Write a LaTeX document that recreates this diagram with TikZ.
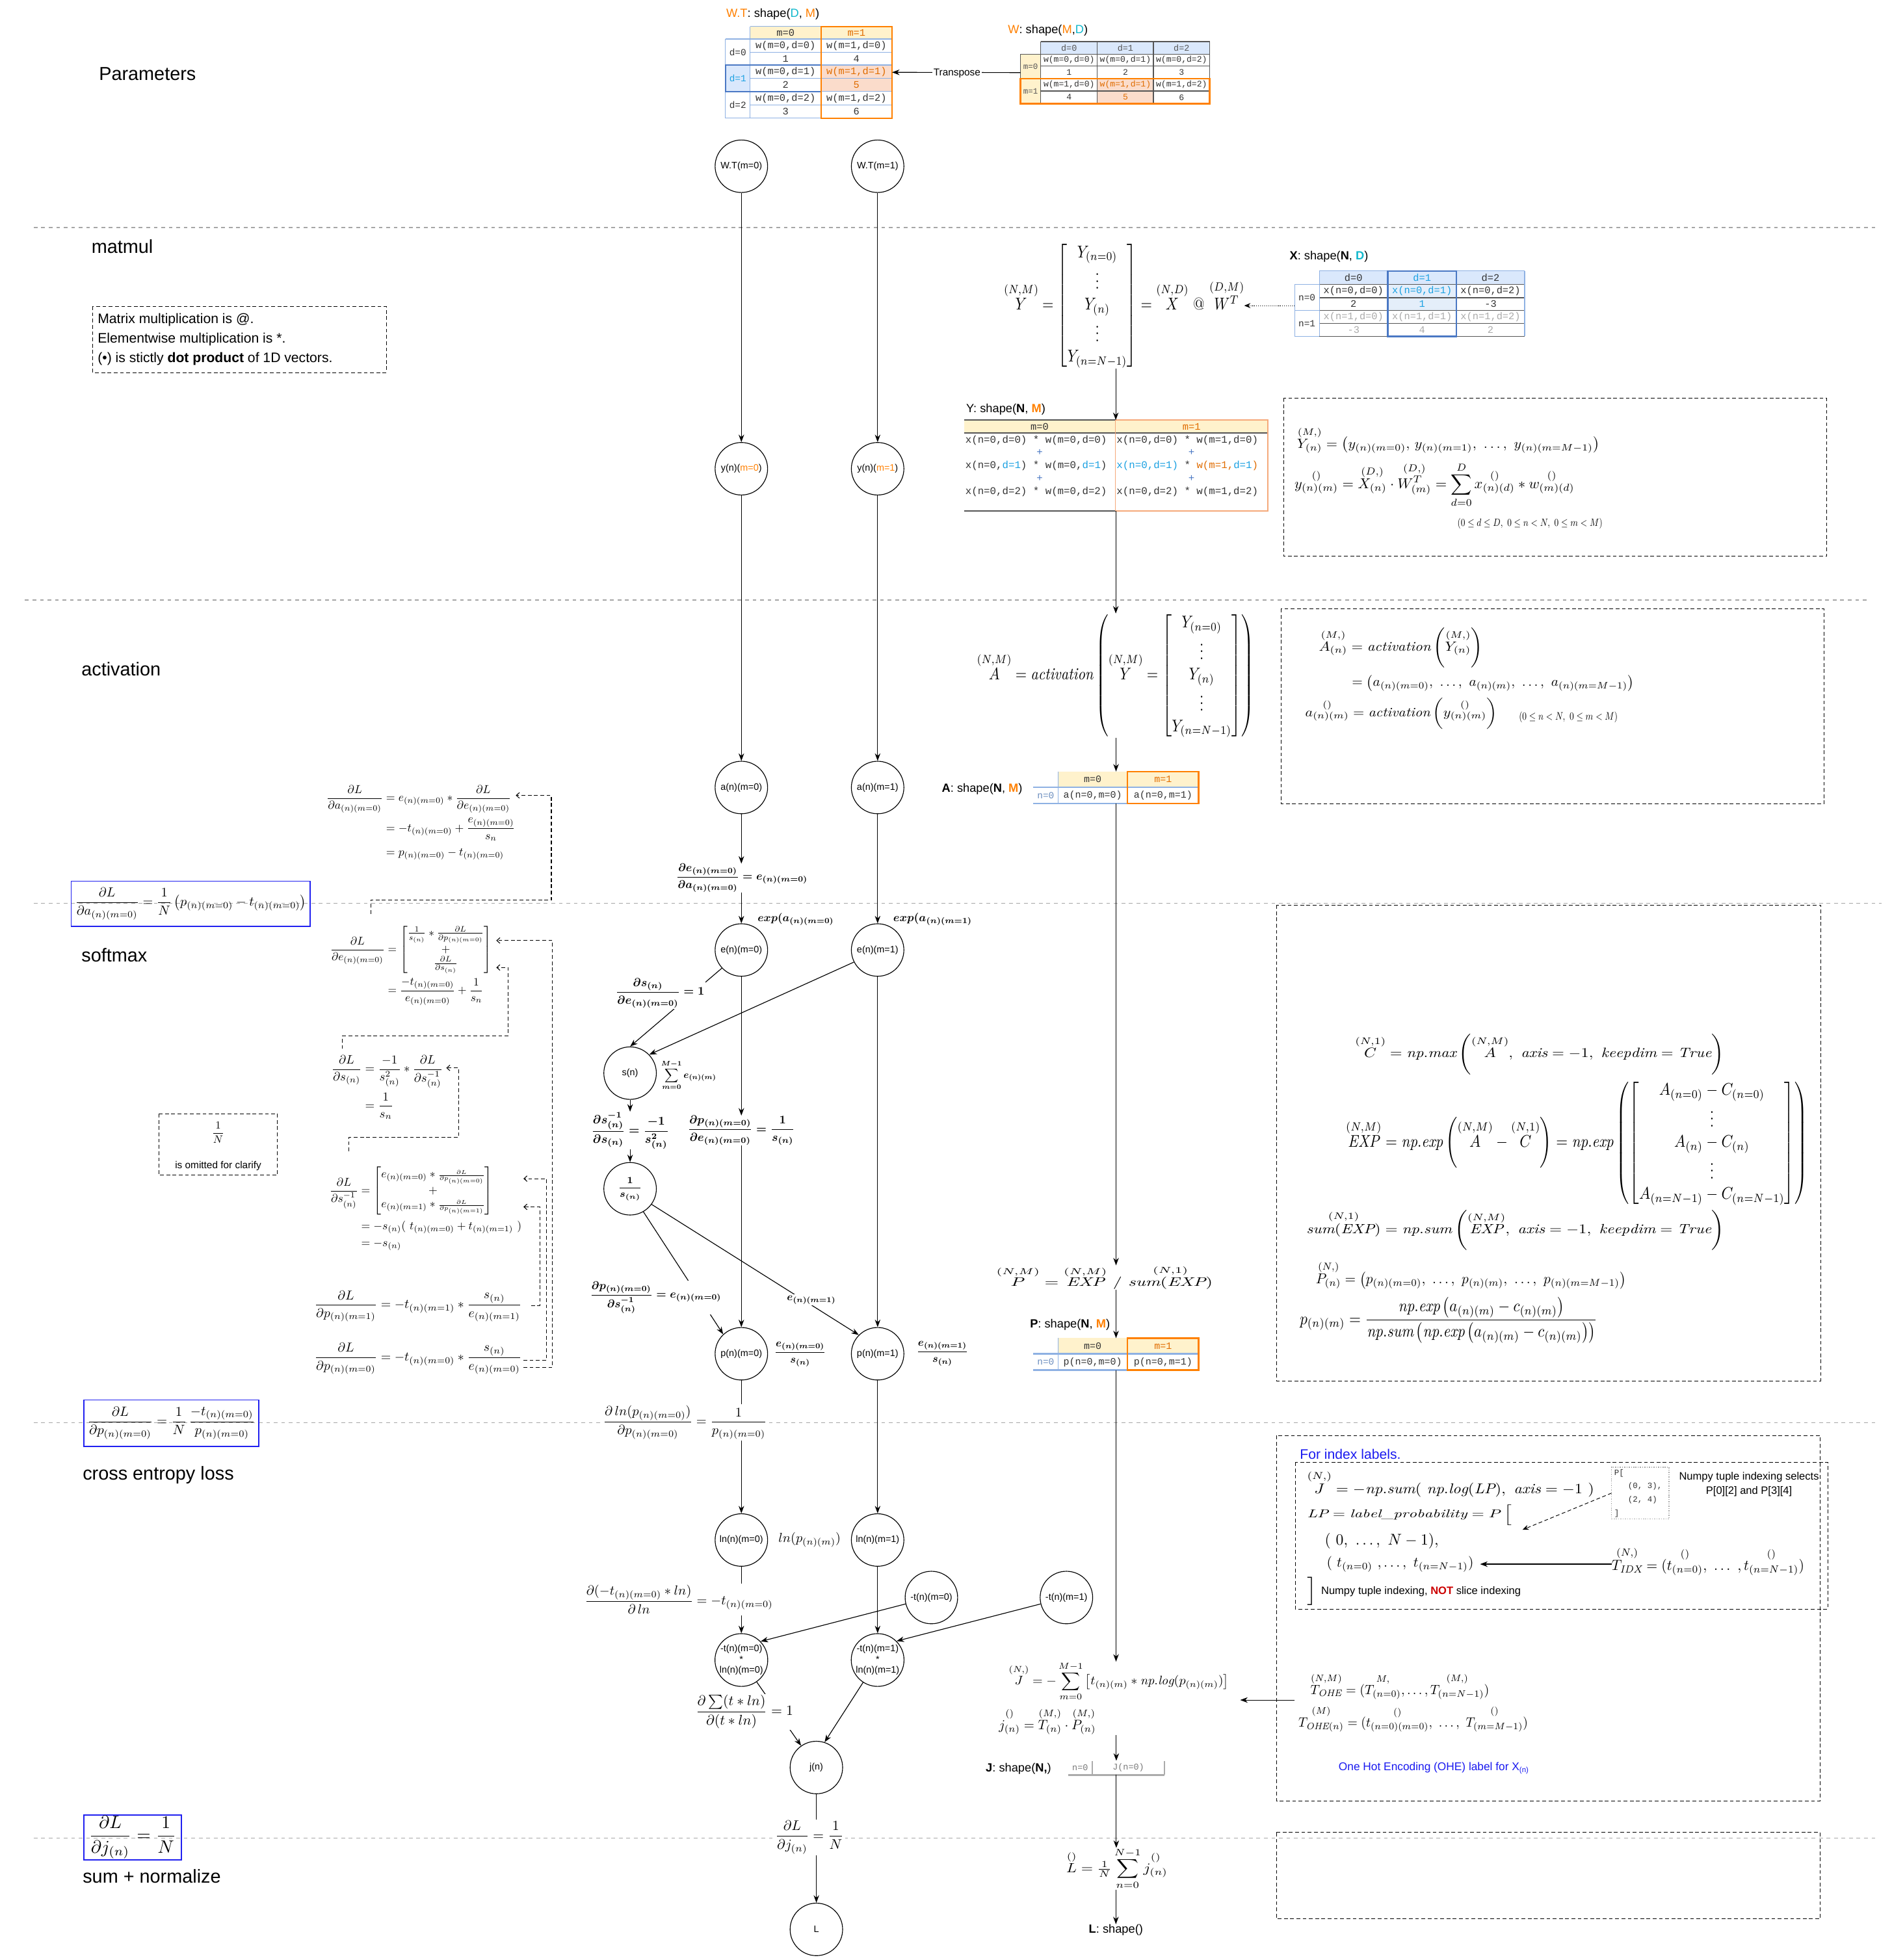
\RequirePackage{fix-cm}
\documentclass[tikz,border=0pt]{standalone}
\usepackage{amsmath,amssymb}
\usepackage{graphicx}
\usepackage{fontspec}
\setsansfont{Liberation Sans}
\setmonofont{Liberation Mono}
\usetikzlibrary{arrows.meta}

\definecolor{orT}{HTML}{FF8000}
\definecolor{orD}{HTML}{E06C00}
\definecolor{orL}{HTML}{F5A97A}
\definecolor{cyT}{HTML}{12B8CC}
\definecolor{cyD}{HTML}{1BA1E2}
\definecolor{yelF}{HTML}{FFF2CC}
\definecolor{bluF}{HTML}{DAE8FC}
\definecolor{bluL}{HTML}{E4EEFA}
\definecolor{salF}{HTML}{FBDCCB}
\definecolor{bluB}{HTML}{8EB1E3}
\definecolor{bluK}{HTML}{4A78C4}
\definecolor{grT}{HTML}{ABABAB}
\definecolor{dkG}{HTML}{555555}
\definecolor{txG}{HTML}{333333}
\definecolor{sepC}{HTML}{A6A6A6}
\definecolor{boxB}{HTML}{2020F0}
\definecolor{hdB}{HTML}{6C8EBF}
\definecolor{notR}{HTML}{CC0000}
\definecolor{linkB}{HTML}{1A1AF0}

% width-fitted and box-fitted formulas
\newcommand\fwid[2]{\resizebox{#1pt}{!}{#2}}
\newcommand\fwh[3]{\resizebox*{#1pt}{#2pt}{#3}}
% array shape written above a symbol (indices go inside the second argument)
\newcommand\shp[2]{{\overset{#1}{#2}}}
\newcommand\tsz[1]{\fontsize{#1}{#1}\selectfont}

\begin{document}
\begin{tikzpicture}[x=1pt,y=-1pt,
  op/.style={circle,draw,line width=0.6pt,minimum size=42pt,inner sep=0pt,fill=white,font=\sffamily\tsz{7.5}},
  arr/.style={-{Stealth[length=6pt,width=4.4pt]},line width=0.6pt},
  bp/.style={densely dashed,line width=0.55pt,-{Straight Barb[length=2.5pt,width=4.5pt]}},
  sepl/.style={sepC,dashed,line width=0.6pt},
  lbl/.style={inner sep=1pt,fill=white},
  eqn/.style={inner sep=0pt},
  sec/.style={anchor=west,inner sep=0pt,font=\sffamily\tsz{15}},
  dbox/.style={draw,densely dashed,line width=0.5pt},
  bbox/.style={draw=boxB,line width=0.8pt},
  tc/.style={inner sep=0pt,text=txG,font=\ttfamily\tsz{#1}},
  tc/.default=8,
  shl/.style={inner sep=0pt,font=\sffamily\tsz{9.5}},
  holder/.style={inner sep=0pt,outer sep=0pt}
]
\fill[white] (0,0) rectangle (1513,1568);
\useasboundingbox (0,0) rectangle (1513,1568);

% ---------------- stage separators ----------------
\draw[sepl] (27,182) -- (1500,182);
\draw[sepl] (20,480) -- (1495,480);
\draw[sepl] (27,722.5) -- (1505,722.5);
\draw[sepl] (27,1138) -- (1500,1138);
\draw[sepl] (27,1470.5) -- (1500,1470.5);

% ---------------- stage titles ----------------
\node[sec] (tParam) at (79,59) {Parameters};
\node[sec] (tMat) at (73,197) {matmul};
\node[sec] (tAct) at (65,535) {activation};
\node[sec] (tSoft) at (65,764) {softmax};
\node[sec] (tCE) at (66,1180) {cross entropy loss};
\node[sec] (tSum) at (66,1501) {sum + normalize};

% ---------------- notes ----------------
\draw[dbox] (74,245) rectangle (309,298);
\node[anchor=west,align=left,inner sep=0pt,font=\sffamily\fontsize{11}{15.5}\selectfont] (tNote) at (78,271.5)
  {Matrix multiplication is @.\\Elementwise multiplication is *.\\(•) is stictly \textbf{dot product} of 1D vectors.};
\draw[dbox] (127,891) rectangle (222,940);
\node[eqn] (omN) at (174.5,906) {\fwid{10}{$\dfrac{1}{N}$}};
\node[inner sep=0pt,font=\sffamily\tsz{8}] (omT) at (174.5,932.5) {is omitted for clarify};

% ---------------- W.T table ----------------
\node[shl] (wtTl) at (618.2,11.3) {\textcolor{orT}{W.T}: shape(\textcolor{cyT}{D}, \textcolor{orT}{M})};
\node[holder,minimum width=133.2pt,minimum height=73.3pt] (wtT) at (646.9,57.85) {};
\fill[yelF] (600,21.2) rectangle (713.5,31.2);
\fill[bluF] (580.3,52) rectangle (600,73.2);
\fill[salF] (656.7,52) rectangle (713.5,73.2);
\draw[bluB,line width=0.6pt]
  (600,21.2) -- (713.5,21.2) (580.3,31.2) -- (713.5,31.2) (600,41.9) -- (713.5,41.9)
  (580.3,52) -- (713.5,52) (600,62.6) -- (713.5,62.6) (580.3,73.2) -- (713.5,73.2)
  (600,83.9) -- (713.5,83.9) (580.3,94.5) -- (713.5,94.5)
  (580.3,31.2) -- (580.3,94.5) (600,21.2) -- (600,94.5) (656.7,21.2) -- (656.7,94.5);
\draw[bluK,line width=1.2pt] (580.3,52) rectangle (656.7,73.2);
\draw[orT,line width=1.2pt] (656.7,21.2) rectangle (713.5,94.5);
\node[tc=8] (wt-h0) at (628.35,26.2) {m=0};
\node[tc=8,text=orD] (wt-h1) at (685.1,26.2) {m=1};
\node[tc=7.5] (wt-d0) at (590.15,41.6) {d=0};
\node[tc=7.5,text=cyD] (wt-d1) at (590.15,62.6) {d=1};
\node[tc=7.5] (wt-d2) at (590.15,83.85) {d=2};
\node[tc=8] (wt-a1) at (628.35,36.55) {w(m=0,d=0)};
\node[tc=8] (wt-a2) at (628.35,46.95) {1};
\node[tc=8] (wt-a3) at (628.35,57.3) {w(m=0,d=1)};
\node[tc=8] (wt-a4) at (628.35,67.9) {2};
\node[tc=8] (wt-a5) at (628.35,78.55) {w(m=0,d=2)};
\node[tc=8] (wt-a6) at (628.35,89.2) {3};
\node[tc=8] (wt-b1) at (685.1,36.55) {w(m=1,d=0)};
\node[tc=8] (wt-b2) at (685.1,46.95) {4};
\node[tc=8,text=orD] (wt-b3) at (685.1,57.3) {w(m=1,d=1)};
\node[tc=8,text=orD] (wt-b4) at (685.1,67.9) {5};
\node[tc=8] (wt-b5) at (685.1,78.55) {w(m=1,d=2)};
\node[tc=8] (wt-b6) at (685.1,89.2) {6};

% ---------------- W table ----------------
\node[shl] (wtabl) at (838.2,24.3) {\textcolor{orT}{W}: shape(\textcolor{orT}{M},\textcolor{cyT}{D})};
\node[holder,minimum width=151.3pt,minimum height=49.6pt] (wtab) at (891.95,58.1) {};
\fill[bluF] (832.4,33.3) rectangle (967.6,43.3);
\fill[yelF] (816.3,43.3) rectangle (832.4,82.9);
\fill[salF] (877.8,62.8) rectangle (922.6,82.9);
\draw[dkG,line width=0.6pt]
  (832.4,33.3) -- (967.6,33.3) (816.3,43.3) -- (967.6,43.3) (832.4,52.9) -- (967.6,52.9)
  (816.3,62.8) -- (967.6,62.8) (832.4,72.8) -- (967.6,72.8) (816.3,82.9) -- (967.6,82.9)
  (816.3,43.3) -- (816.3,82.9) (832.4,33.3) -- (832.4,82.9) (877.8,33.3) -- (877.8,82.9)
  (922.6,33.3) -- (922.6,82.9) (967.6,33.3) -- (967.6,82.9);
\draw[orT,line width=1.2pt] (816.3,62.8) rectangle (967.6,82.9);
\node[tc=7,text=dkG] (w-h0) at (855.1,38.3) {d=0};
\node[tc=7,text=dkG] (w-h1) at (900.2,38.3) {d=1};
\node[tc=7,text=dkG] (w-h2) at (945.1,38.3) {d=2};
\node[tc=6.5,text=dkG] (w-m0) at (824.35,53.05) {m=0};
\node[tc=6.5,text=dkG] (w-m1) at (824.35,72.85) {m=1};
\node[tc=6.8] (w-a1) at (855.1,48.1) {w(m=0,d=0)};
\node[tc=6.8] (w-a2) at (855.1,57.85) {1};
\node[tc=6.8] (w-a3) at (855.1,67.8) {w(m=1,d=0)};
\node[tc=6.8] (w-a4) at (855.1,77.85) {4};
\node[tc=6.8] (w-b1) at (900.2,48.1) {w(m=0,d=1)};
\node[tc=6.8] (w-b2) at (900.2,57.85) {2};
\node[tc=6.8,text=orD] (w-b3) at (900.2,67.8) {w(m=1,d=1)};
\node[tc=6.8,text=orD] (w-b4) at (900.2,77.85) {5};
\node[tc=6.8] (w-c1) at (945.1,48.1) {w(m=0,d=2)};
\node[tc=6.8] (w-c2) at (945.1,57.85) {3};
\node[tc=6.8] (w-c3) at (945.1,67.8) {w(m=1,d=2)};
\node[tc=6.8] (w-c4) at (945.1,77.85) {6};

% ---------------- X table ----------------
\node[shl] (xtabl) at (1063,205.4) {\textbf{X}: shape(\textbf{N}, \textcolor{cyT}{\textbf{D}})};
\node[holder,minimum width=184pt,minimum height=52.4pt] (xtab) at (1127.5,242.9) {};
\fill[bluF] (1055.3,216.7) rectangle (1219.5,227.5);
\fill[bluL] (1110,227.5) rectangle (1165,248.3);
\draw[dkG,line width=0.7pt]
  (1055.3,227.5) -- (1219.5,227.5) (1055.3,238.1) -- (1219.5,238.1) (1055.3,248.3) -- (1219.5,248.3)
  (1055.3,258.7) -- (1219.5,258.7) (1055.3,269.1) -- (1219.5,269.1);
\draw[bluB,line width=0.6pt]
  (1055.3,216.7) -- (1219.5,216.7) (1035.5,227.5) -- (1055.3,227.5) (1035.5,248.3) -- (1055.3,248.3)
  (1035.5,269.1) -- (1055.3,269.1) (1035.5,227.5) -- (1035.5,269.1) (1055.3,216.7) -- (1055.3,269.1)
  (1219.5,216.7) -- (1219.5,269.1);
\draw[bluK,line width=1.2pt] (1110,216.7) rectangle (1165,269.1);
\node[tc=8] (x-h0) at (1082.65,222.1) {d=0};
\node[tc=8,text=cyD] (x-h1) at (1137.5,222.1) {d=1};
\node[tc=8] (x-h2) at (1192.25,222.1) {d=2};
\node[tc=7.5] (x-n0) at (1045.4,237.9) {n=0};
\node[tc=7.5] (x-n1) at (1045.4,258.7) {n=1};
\node[tc=8] (x-a1) at (1082.65,232.8) {x(n=0,d=0)};
\node[tc=8,text=cyD] (x-a2) at (1137.5,232.8) {x(n=0,d=1)};
\node[tc=8] (x-a3) at (1192.25,232.8) {x(n=0,d=2)};
\node[tc=8] (x-b1) at (1082.65,243.2) {2};
\node[tc=8,text=cyD] (x-b2) at (1137.5,243.2) {1};
\node[tc=8] (x-b3) at (1192.25,243.2) {-3};
\node[tc=8,text=grT] (x-c1) at (1082.65,253.5) {x(n=1,d=0)};
\node[tc=8,text=grT] (x-c2) at (1137.5,253.5) {x(n=1,d=1)};
\node[tc=8,text=grT] (x-c3) at (1192.25,253.5) {x(n=1,d=2)};
\node[tc=8,text=grT] (x-d1) at (1082.65,263.9) {-3};
\node[tc=8,text=grT] (x-d2) at (1137.5,263.9) {4};
\node[tc=8,text=grT] (x-d3) at (1192.25,263.9) {2};

% ---------------- Y table ----------------
\node[shl] (ytabl) at (804.5,327.6) {Y: shape(\textbf{N}, \textcolor{orT}{\textbf{M}})};
\node[holder,minimum width=243pt,minimum height=72.8pt] (ytab) at (892.5,372.4) {};
\fill[yelF] (771,336) rectangle (1014,346.4);
\draw[dkG,line width=1.1pt] (771,336) -- (892.2,336) (771,346.4) -- (1014,346.4) (771,408.8) -- (892.2,408.8);
\draw[orL,line width=1.1pt] (892.2,336) -- (1014,336) -- (1014,408.8) -- (892.2,408.8);
\draw[orL,line width=0.6pt] (892.2,336) -- (892.2,408.8);
\node[tc=8] (y-h0) at (831.6,341.2) {m=0};
\node[tc=8,text=orD] (y-h1) at (953.1,341.2) {m=1};
\node[tc=8.2,anchor=west] (y-l1) at (772,352.5) {x(n=0,d=0) * w(m=0,d=0)};
\node[tc=8.2,text=bluK] (y-l2) at (831.6,361.8) {+};
\node[tc=8.2,anchor=west] (y-l3) at (772,372.7) {x(n=0,\textcolor{cyD}{d=1}) * w(m=0,\textcolor{cyD}{d=1})};
\node[tc=8.2,text=bluK] (y-l4) at (831.6,382.6) {+};
\node[tc=8.2,anchor=west] (y-l5) at (772,393.5) {x(n=0,d=2) * w(m=0,d=2)};
\node[tc=8.2,anchor=west] (y-r1) at (893,352.5) {x(n=0,d=0) * w(m=1,d=0)};
\node[tc=8.2,text=bluK] (y-r2) at (953.1,361.8) {+};
\node[tc=8.2,anchor=west] (y-r3) at (893,372.7) {\textcolor{cyD}{x(n=0,d=1)} * \textcolor{orD}{w(m=1,}\textcolor{cyD}{d=1}\textcolor{orD}{)}};
\node[tc=8.2,text=bluK] (y-r4) at (953.1,382.6) {+};
\node[tc=8.2,anchor=west] (y-r5) at (893,393.5) {x(n=0,d=2) * w(m=1,d=2)};

% ---------------- A table ----------------
\node[shl,anchor=east] (atabl) at (818,631) {\textbf{A}: shape(\textbf{N}, \textcolor{orT}{\textbf{M}})};
\node[holder,minimum width=132.2pt,minimum height=25.6pt] (atab) at (892.7,630) {};
\fill[yelF] (846.3,617.2) rectangle (958.8,629.8);
\draw[bluB,line width=1.2pt] (826.6,629.8) -- (958.8,629.8) (826.6,642.8) -- (958.8,642.8);
\draw[bluB,line width=0.6pt] (846.3,617.2) -- (846.3,642.8);
\draw[orT,line width=1.2pt] (901.8,617.2) rectangle (958.8,642.8);
\node[tc=7.8] (a-h0) at (874.05,623.5) {m=0};
\node[tc=7.8,text=orD] (a-h1) at (930.3,623.5) {m=1};
\node[tc=7.5,text=hdB] (a-n0) at (836.45,636.3) {n=0};
\node[tc=7.8] (a-c0) at (874.05,636.3) {a(n=0,m=0)};
\node[tc=7.8] (a-c1) at (930.3,636.3) {a(n=0,m=1)};

% ---------------- P table ----------------
\node[shl,anchor=east] (ptabl) at (888,1060) {\textbf{P}: shape(\textbf{N}, \textcolor{orT}{\textbf{M}})};
\node[holder,minimum width=132.2pt,minimum height=25.6pt] (ptab) at (892.7,1083.3) {};
\fill[yelF] (846.3,1070.5) rectangle (958.8,1083.1);
\draw[bluB,line width=1.2pt] (826.6,1083.1) -- (958.8,1083.1) (826.6,1096.1) -- (958.8,1096.1);
\draw[bluB,line width=0.6pt] (846.3,1070.5) -- (846.3,1096.1);
\draw[orT,line width=1.2pt] (901.8,1070.5) rectangle (958.8,1096.1);
\node[tc=7.8] (p-h0) at (874.05,1076.8) {m=0};
\node[tc=7.8,text=orD] (p-h1) at (930.3,1076.8) {m=1};
\node[tc=7.5,text=hdB] (p-n0) at (836.45,1089.6) {n=0};
\node[tc=7.8] (p-c0) at (874.05,1089.6) {p(n=0,m=0)};
\node[tc=7.8] (p-c1) at (930.3,1089.6) {p(n=0,m=1)};

% ---------------- J table ----------------
\node[shl,anchor=east] (jtabl) at (841,1415) {\textbf{J}: shape(\textbf{N,})};
\node[holder,minimum width=77.2pt,minimum height=11.4pt] (jtab) at (892.9,1414.3) {};
\draw[grT,line width=1.2pt] (854.3,1420) -- (931.5,1420);
\draw[grT,line width=0.8pt] (873.8,1408.6) -- (873.8,1420) (931.5,1408.6) -- (931.5,1420);
\node[tc=7,text=grT!70!black] (j-n0) at (864,1414.3) {n=0};
\node[tc=7,text=grT!70!black] (j-c0) at (902.6,1414.3) {J(n=0)};
\node[shl] (lshp) at (892.6,1544) {\textbf{L}: shape()};

% ---------------- right-hand equations ----------------
\node[eqn] (mm) at (899,244.5) {\fwh{192}{100}{$\shp{(N,M)}{Y} = \begin{bmatrix} Y_{(n=0)}\\ \vdots\\ Y_{(n)}\\ \vdots\\ Y_{(n=N-1)} \end{bmatrix} = \shp{(N,D)}{X}\ @\ \shp{(D,M)}{W^{T}}$}};

\draw[dbox] (1026.7,318.4) rectangle (1461,445);
\node[eqn] (yb1) at (1158.5,352) {\fwh{242}{21}{$\shp{(M,)}{Y_{(n)}} = \left(y_{(n)(m=0)},\, y_{(n)(m=1)},\ \dots,\ y_{(n)(m=M-1)}\right)$}};
\node[eqn] (yb2) at (1147.5,388) {\fwh{224}{36}{$\displaystyle \shp{()}{y_{(n)(m)}} = \shp{(D,)}{X_{(n)}} \cdot \shp{(D,)}{W^{T}_{(m)}} = \sum_{d=0}^{D} \shp{()}{x_{(n)(d)}} * \shp{()}{w_{(m)(d)}}$}};
\node[eqn] (yb3) at (1223.8,419) {\fwh{116}{8.5}{$(0\le d\le D,\ 0\le n<N,\ 0\le m<M)$}};

\node[eqn] (act) at (892.25,540.5) {\fwh{221.5}{99}{$\shp{(N,M)}{A} = \mathit{activation}\left(\shp{(N,M)}{Y} = \begin{bmatrix} Y_{(n=0)}\\ \vdots\\ Y_{(n)}\\ \vdots\\ Y_{(n=N-1)}\end{bmatrix}\right)$}};

\draw[dbox] (1024.6,487) rectangle (1459,643);
\node[eqn] (ab1) at (1120.5,518) {\fwh{131}{32}{$\shp{(M,)}{A_{(n)}} = \mathit{activation}\left(\shp{(M,)}{Y_{(n)}}\right)$}};
\node[eqn] (ab2) at (1194.2,546.5) {\fwh{225.5}{13}{$= \left(a_{(n)(m=0)},\ \dots,\ a_{(n)(m)},\ \dots,\ a_{(n)(m=M-1)}\right)$}};
\node[eqn] (ab3) at (1120.8,570.7) {\fwh{153.5}{25}{$\shp{()}{a_{(n)(m)}} = \mathit{activation}\left(\shp{()}{y_{(n)(m)}}\right)$}};
\node[eqn] (ab4) at (1254.5,574) {\fwh{79}{8.7}{$(0\le n<N,\ 0\le m<M)$}};

\node[eqn] (peq) at (883.5,1022) {\fwh{173}{19}{$\shp{(N,M)}{P} = \shp{(N,M)}{\mathit{EXP}}\ /\ \shp{(N,1)}{\mathit{sum}(\mathit{EXP})}$}};

\draw[dbox] (1021,724) rectangle (1456.3,1104.7);
\node[eqn] (sm1) at (1231.5,843.3) {\fwh{295}{32.6}{$\shp{(N,1)}{C} = \mathit{np.max}\left(\shp{(N,M)}{A},\ \mathit{axis}=-1,\ \mathit{keepdim}=\mathit{True}\right)$}};
\node[eqn] (sm2) at (1261.3,914.3) {\fwh{369.4}{99.5}{$\shp{(N,M)}{\mathit{EXP}} = \mathit{np.exp}\left(\shp{(N,M)}{A} - \shp{(N,1)}{C}\right) = \mathit{np.exp}\left(\begin{bmatrix} A_{(n=0)} - C_{(n=0)}\\ \vdots\\ A_{(n)} - C_{(n)}\\ \vdots\\ A_{(n=N-1)} - C_{(n=N-1)}\end{bmatrix}\right)$}};
\node[eqn] (sm3) at (1212,984) {\fwh{334}{32}{$\shp{(N,1)}{\mathit{sum}(\mathit{EXP})} = \mathit{np.sum}\left(\shp{(N,M)}{\mathit{EXP}},\ \mathit{axis}=-1,\ \mathit{keepdim}=\mathit{True}\right)$}};
\node[eqn] (sm4) at (1176.6,1020) {\fwh{248}{22.4}{$\shp{(N,)}{P_{(n)}} = \left(p_{(n)(m=0)},\ \dots,\ p_{(n)(m)},\ \dots,\ p_{(n)(m=M-1)}\right)$}};
\node[eqn] (sm5) at (1158.8,1056) {\fwh{238}{37}{$p_{(n)(m)} = \dfrac{\mathit{np.exp}\left(a_{(n)(m)} - c_{(n)(m)}\right)}{\mathit{np.sum}\left(\mathit{np.exp}\left(a_{(n)(m)} - c_{(n)(m)}\right)\right)}$}};

% ---------------- label / one-hot box ----------------
\draw[dbox] (1021,1148.4) rectangle (1456,1440.7);
\draw[dbox] (1036,1169.8) rectangle (1462,1287.3);
\node[anchor=west,inner sep=0pt,font=\sffamily\tsz{11},text=linkB] (tIdx) at (1039.6,1163.5) {For index labels.};
\node[eqn,anchor=west] (ce1) at (1045.4,1187) {\fwh{229.6}{21}{$\shp{(N,)}{J} = -\mathit{np.sum}(\ \mathit{np.log}(\mathit{LP}),\ \mathit{axis} = -1\ )$}};
\node[eqn,anchor=west] (ce2) at (1045.4,1212) {\fwh{163.6}{16.5}{$\mathit{LP} = \mathit{label\_probability} = P\,\Big[$}};
\node[eqn,anchor=west] (ce3) at (1059.5,1233) {\fwh{91}{12.5}{$(\ 0,\ \dots,\ N-1),$}};
\node[eqn,anchor=west] (ce4) at (1061,1251.3) {\fwh{117.5}{12.6}{$(\ t_{(n=0)}\ ,\dots,\ t_{(n=N-1)})$}};
\node[eqn,anchor=west] (ce5) at (1045.5,1273) {\resizebox{!}{16pt}{$\big]$}};
\node[anchor=west,inner sep=0pt,font=\sffamily\tsz{8.6}] (ce6) at (1056.6,1273) {Numpy tuple indexing, \textcolor{notR}{\textbf{NOT}} slice indexing};
\node[holder,minimum width=46pt,minimum height=41.4pt,draw=grT,densely dotted,line width=0.8pt] (pbx) at (1312,1194.5) {};
\node[tc=6.5,anchor=west] (pbx1) at (1291,1178.5) {P[};
\node[tc=6.5,anchor=west] (pbx2) at (1302,1189) {(0, 3),};
\node[tc=6.5,anchor=west] (pbx3) at (1302,1200) {(2, 4)};
\node[tc=6.5,anchor=west] (pbx4) at (1291,1211) {]};
\node[align=center,inner sep=0pt,font=\sffamily\fontsize{8.6}{11.5}\selectfont] (npsel) at (1399,1187.5) {Numpy tuple indexing selects\\P[0][2] and P[3][4]};
\node[eqn,anchor=west] (tidx) at (1289,1249) {\fwh{154}{23}{$\shp{(N,)}{T_{\mathit{IDX}}} = (\shp{()}{t_{(n=0)}},\ \dots\ ,\shp{()}{t_{(n=N-1)}})$}};
\node[eqn,anchor=west] (tohe1) at (1048,1349) {\fwh{143}{21}{$\shp{(N,M)}{T_{\mathit{OHE}}} = (\shp{M,}{T_{(n=0)}},\dots,\shp{(M,)}{T_{(n=N-1)}})$}};
\node[eqn,anchor=west] (tohe2) at (1038.4,1375) {\fwh{183.6}{21}{$\shp{(M)}{T_{\mathit{OHE}(n)}} = (\shp{()}{t_{(n=0)(m=0)}},\ \dots,\ \shp{()}{T_{(m=M-1)}})$}};
\node[anchor=west,inner sep=0pt,font=\sffamily\tsz{9},text=linkB] (oheT) at (1070.6,1414.6) {One Hot Encoding (OHE) label for X\raisebox{-1.5pt}{\tsz{6}(n)}};
\draw[dbox] (1021,1466) rectangle (1456,1535);

\node[eqn] (jeq) at (895,1345) {\fwh{176}{31}{$\displaystyle \shp{(N,)}{J} = -\sum_{m=0}^{M-1}\left[t_{(n)(m)} * \mathit{np.log}(p_{(n)(m)})\right]$}};
\node[eqn] (jsm) at (837.8,1377) {\fwh{77.6}{21.4}{$\shp{()}{j_{(n)}} = \shp{(M,)}{T_{(n)}} \cdot \shp{(M,)}{P_{(n)}}$}};
\node[eqn] (leq) at (893.5,1495) {\fwh{81}{33}{$\displaystyle \shp{()}{L} = \tfrac{1}{N}\sum_{n=0}^{N-1}\shp{()}{j_{(n)}}$}};

% ---------------- left: gradient derivations ----------------
\node[eqn,anchor=west] (gA) at (261,658) {\fwid{151}{$\begin{aligned} \frac{\partial L}{\partial a_{(n)(m=0)}} &= e_{(n)(m=0)} * \frac{\partial L}{\partial e_{(n)(m=0)}}\\ &= -t_{(n)(m=0)} + \frac{e_{(n)(m=0)}}{s_n}\\ &= p_{(n)(m=0)} - t_{(n)(m=0)} \end{aligned}$}};
\node[eqn,anchor=west] (gE) at (264,772.5) {\fwid{129}{$\begin{aligned} \frac{\partial L}{\partial e_{(n)(m=0)}} &= \begin{bmatrix} \frac{1}{s_{(n)}} * \frac{\partial L}{\partial p_{(n)(m=0)}}\\ + \\ \frac{\partial L}{\partial s_{(n)}} \end{bmatrix}\\ &= \frac{-t_{(n)(m=0)}}{e_{(n)(m=0)}} + \frac{1}{s_n} \end{aligned}$}};
\node[eqn,anchor=west] (gS) at (265,870) {\fwid{89}{$\begin{aligned}\frac{\partial L}{\partial s_{(n)}} &= \frac{-1}{s^2_{(n)}} * \frac{\partial L}{\partial s^{-1}_{(n)}}\\ &= \frac{1}{s_n}\end{aligned}$}};
\node[eqn,anchor=west] (gSi) at (263.5,967) {\fwid{153.5}{$\begin{aligned}\frac{\partial L}{\partial s^{-1}_{(n)}} &= \begin{bmatrix} e_{(n)(m=0)} * {\scriptstyle\frac{\partial L}{\partial p_{(n)(m=0)}}}\\ + \\ e_{(n)(m=1)} * {\scriptstyle\frac{\partial L}{\partial p_{(n)(m=1)}}}\end{bmatrix}\\ &= -s_{(n)}(\ t_{(n)(m=0)} + t_{(n)(m=1)}\ )\\ &= -s_{(n)}\end{aligned}$}};
\node[eqn,anchor=west] (gP1) at (251.4,1045) {\fwid{165.6}{$\dfrac{\partial L}{\partial p_{(n)(m=1)}} = -t_{(n)(m=1)} * \dfrac{s_{(n)}}{e_{(n)(m=1)}}$}};
\node[eqn,anchor=west] (gP0) at (251.4,1087) {\fwid{165.6}{$\dfrac{\partial L}{\partial p_{(n)(m=0)}} = -t_{(n)(m=0)} * \dfrac{s_{(n)}}{e_{(n)(m=0)}}$}};

\draw[bbox] (57,705) rectangle (248,741);
\node[eqn] (bx1) at (152.5,723) {\fwid{185}{$\dfrac{\partial L}{\partial a_{(n)(m=0)}} = \dfrac{1}{N}\left(p_{(n)(m=0)} - t_{(n)(m=0)}\right)$}};
\draw[bbox] (67,1120) rectangle (207,1157);
\node[eqn] (bx2) at (137,1138.5) {\fwid{134}{$\dfrac{\partial L}{\partial p_{(n)(m=0)}} = \dfrac{1}{N}\,\dfrac{-t_{(n)(m=0)}}{p_{(n)(m=0)}}$}};
\draw[bbox] (67,1452) rectangle (145,1488);
\node[eqn] (bx3) at (106,1470) {\fwid{70}{$\dfrac{\partial L}{\partial j_{(n)}} = \dfrac{1}{N}$}};

% ---------------- backward dashed links ----------------
\coordinate (bpE1) at (296.5,731);
\coordinate (bpA2) at (412.6,636.3);
\draw[bp] (bpE1) |- (441,720) |- (bpA2);
\coordinate (bpS1) at (274,839);
\coordinate (bpE3) at (397,774);
\draw[bp] (bpS1) |- (406.5,828.7) |- (bpE3);
\coordinate (bpP0a) at (418.7,1093.8);
\coordinate (bpE2) at (397,752.4);
\draw[bp] (bpP0a) -| (442,752.4) -- (bpE2);
\coordinate (bpSi1) at (279,921);
\coordinate (bpS2) at (357,854.3);
\draw[bp] (bpSi1) |- (366.7,910) |- (bpS2);
\coordinate (bpP0b) at (418.7,1088.4);
\coordinate (bpSi2) at (418.7,942.9);
\draw[bp] (bpP0b) -| (436.9,942.9) -- (bpSi2);
\coordinate (bpP1) at (424.8,1044.5);
\coordinate (bpSi3) at (418.7,965.5);
\draw[bp] (bpP1) -| (431.7,965.5) -- (bpSi3);

% ---------------- computation graph nodes ----------------
\node[op] (wt0) at (593,133) {W.T(m=0)};
\node[op] (wt1) at (702,133) {W.T(m=1)};
\node[op] (y0) at (593,375) {y(n)(\textcolor{orT}{m=0})};
\node[op] (y1) at (702,375) {y(n)(\textcolor{orT}{m=1})};
\node[op] (a0) at (593,630) {a(n)(m=0)};
\node[op] (a1) at (702,630) {a(n)(m=1)};
\node[op] (e0) at (593,760) {e(n)(m=0)};
\node[op] (e1) at (702,760) {e(n)(m=1)};
\node[op] (sn) at (504,858.5) {s(n)};
\node[op] (si) at (504,951) {\fwid{19}{$\boldsymbol{\dfrac{1}{s_{(n)}}}$}};
\node[op] (p0) at (593,1083) {p(n)(m=0)};
\node[op] (p1) at (702,1083) {p(n)(m=1)};
\node[op] (ln0) at (593,1232) {ln(n)(m=0)};
\node[op] (ln1) at (702,1232) {ln(n)(m=1)};
\node[op] (mt0) at (745,1278) {-t(n)(m=0)};
\node[op] (mt1) at (853,1278) {-t(n)(m=1)};
\node[op,align=center,font=\sffamily\fontsize{7.5}{8.5}\selectfont] (pr0) at (593,1328) {-t(n)(m=0)\\*\\ln(n)(m=0)};
\node[op,align=center,font=\sffamily\fontsize{7.5}{8.5}\selectfont] (pr1) at (702,1328) {-t(n)(m=1)\\*\\ln(n)(m=1)};
\node[op] (jn) at (653,1414) {j(n)};
\node[op] (Ln) at (653,1543.5) {L};

% labels that sit between two arrows
\node[eqn] (lea) at (593.5,702.5) {\fwid{105}{$\boldsymbol{\dfrac{\partial e_{(n)(m=0)}}{\partial a_{(n)(m=0)}} = e_{(n)(m=0)}}$}};
\node[eqn] (lpe) at (593,904.5) {\fwid{85.6}{$\boldsymbol{\dfrac{\partial p_{(n)(m=0)}}{\partial e_{(n)(m=0)}} = \dfrac{1}{s_{(n)}}}$}};
\node[eqn] (lsinv) at (504,904.5) {\fwid{62}{$\boldsymbol{\dfrac{\partial s^{-1}_{(n)}}{\partial s_{(n)}} = \dfrac{-1}{s^2_{(n)}}}$}};

% ---------------- graph connectors ----------------
\draw[arr] (wt0) -- (y0);
\draw[arr] (wt1) -- (y1);
\draw[arr] (y0) -- (a0);
\draw[arr] (y1) -- (a1);
\draw[arr] (a0) -- (a0 |- lea.north);
\draw[arr] (a0 |- lea.south) -- (e0);
\draw[arr] (a1) -- (e1);
\draw[arr] (e0) -- (e0 |- lpe.north);
\draw[arr] (e0 |- lpe.south) -- (p0);
\draw[arr] (e1) -- (p1);
\draw[arr] (e0.223) -- (sn.north);
\draw[arr] (e1.207) -- (sn.44);
\draw[arr] (sn) -- (lsinv);
\draw[arr] (lsinv) -- (si);
\draw[arr] (si.300) -- (p0.133);
\draw[arr] (si.324) -- (p1.135);
\draw[arr] (p0) -- (ln0);
\draw[arr] (p1) -- (ln1);
\draw[arr] (ln0) -- (pr0);
\draw[arr] (ln1) -- (pr1);
\draw[arr] (mt0.194) -- (pr0.44);
\draw[arr] (mt1.194) -- (pr1.45);
\draw[arr] (pr0.305) -- (jn.125);
\draw[arr] (pr1.237) -- (jn.72);
\draw[arr] (jn) -- (Ln);

% labels laid over the connectors
\node[lbl] (lexp0) at (636.5,735.5) {\fwid{61}{$\boldsymbol{exp(a_{(n)(m=0)}}$}};
\node[lbl] (lexp1) at (746,735.5) {\fwid{63}{$\boldsymbol{exp(a_{(n)(m=1)}}$}};
\node[lbl] (lse) at (528,794.5) {\fwid{71}{$\boldsymbol{\dfrac{\partial s_{(n)}}{\partial e_{(n)(m=0)}} = 1}$}};
\node[eqn] (lsum) at (551,860) {\fwid{44}{$\boldsymbol{\displaystyle\sum_{m=0}^{M-1} e_{(n)(m)}}$}};
\node[lbl] (lps) at (524.5,1038) {\fwid{105}{$\boldsymbol{\dfrac{\partial p_{(n)(m=0)}}{\partial s^{-1}_{(n)}} = e_{(n)(m=0)}}$}};
\node[lbl] (le1) at (649,1040) {\fwid{39}{$\boldsymbol{e_{(n)(m=1)}}$}};
\node[eqn] (lfe0) at (640,1083.4) {\fwid{41}{$\boldsymbol{\dfrac{e_{(n)(m=0)}}{s_{(n)}}}$}};
\node[eqn] (lfe1) at (753.8,1083) {\fwid{41}{$\boldsymbol{\dfrac{e_{(n)(m=1)}}{s_{(n)}}}$}};
\node[lbl] (llnp) at (548,1138) {\fwid{131}{$\dfrac{\partial\, ln(p_{(n)(m=0)})}{\partial p_{(n)(m=0)}} = \dfrac{1}{p_{(n)(m=0)}}$}};
\node[eqn] (lln) at (647.6,1232) {\fwid{49.7}{$ln(p_{(n)(m)})$}};
\node[lbl] (ltl) at (543,1279.6) {\fwid{150.5}{$\dfrac{\partial(-t_{(n)(m=0)} * ln)}{\partial\, ln} = -t_{(n)(m=0)}$}};
\node[lbl] (lsum2) at (595.5,1369.5) {\fwid{78}{$\dfrac{\partial \sum(t * ln)}{\partial(t * ln)} = 1$}};
\node[lbl] (ldj) at (647.6,1470) {\fwid{54.7}{$\dfrac{\partial L}{\partial j_{(n)}} = \dfrac{1}{N}$}};

% ---------------- forward shape flow ----------------
\draw[arr] (wtab.west) -- (wtT.east);
\node[lbl,font=\sffamily\tsz{8}] (tTr) at (765.5,58.5) {Transpose};
\draw[densely dotted,line width=0.6pt,-{Stealth[length=5pt,width=4pt]}] (xtab.west |- mm.east) -- (mm.east);
\draw[arr] (mm.south -| ytab.north) -- (ytab.north);
\draw[arr] (ytab.south) -- (ytab.south |- act.north);
\draw[arr] (act.south -| atab.north) -- (atab.north);
\draw[arr] (atab.south) -- (atab.south |- peq.north);
\draw[arr] (peq.south -| ptab.north) -- (ptab.north);
\draw[arr] (ptab.south) -- (ptab.south |- jeq.north);
\draw[arr] (jtab.north |- jsm.south) -- (jtab.north);
\draw[arr] (jtab.south) -- (jtab.south |- leq.north);
\draw[arr] (leq.south -| lshp.north) -- (lshp.north);
\coordinate (lpB) at (1217.8,1223.8);
\draw[densely dashed,line width=0.5pt,-{Stealth[length=5pt,width=4pt]}] (pbx.west) -- (lpB);
\draw[arr,shorten >=5pt] (tidx.west |- ce4.east) -- (ce4.east);
\coordinate (oheS) at (1035.6,1360);
\coordinate (jeqR) at (992,1360);
\draw[arr] (oheS) -- (jeqR);
\end{tikzpicture}
\end{document}
